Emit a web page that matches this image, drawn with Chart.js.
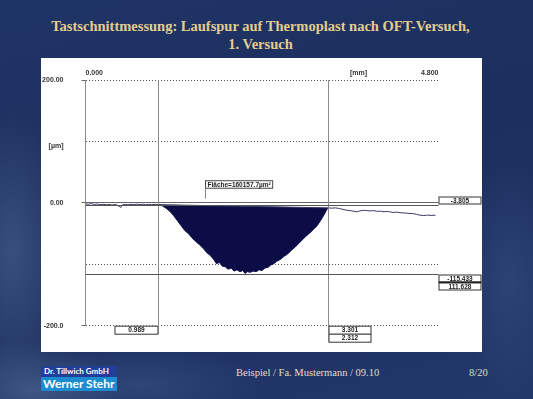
<!DOCTYPE html>
<html>
<head>
<meta charset="utf-8">
<script src="https://cdn.jsdelivr.net/npm/chart.js@4"></script>
<style>
  html, body { margin: 0; padding: 0; }
  body {
    width: 533px; height: 399px; overflow: hidden; position: relative;
    background:
      radial-gradient(ellipse 60px 140px at 12px 250px, rgba(110,140,185,0.35), transparent),
      radial-gradient(ellipse 90px 50px at 30px 390px, rgba(120,150,190,0.35), transparent),
      radial-gradient(ellipse 120px 40px at 140px 385px, rgba(90,120,170,0.25), transparent),
      radial-gradient(ellipse 50px 120px at 510px 280px, rgba(80,110,160,0.25), transparent),
      linear-gradient(165deg, #1f3466 0%, #1c2f5e 45%, #22386a 100%);
  }
  #title {
    position: absolute; left: 0; top: 17px; width: 521px; text-align: center;
    font: bold 14.5px "Liberation Serif", "DejaVu Serif", serif; line-height: 18px;
    color: #e3cd8c;
  }
  #panel { position: absolute; left: 41px; top: 58px; width: 441px; height: 294px; background: #fff; }
  #footer {
    position: absolute; left: 236px; top: 367px; white-space: nowrap;
    font: 10.5px "Liberation Serif", serif; color: #e4dcc4;
  }
  #page { position: absolute; left: 469px; top: 367px; font: 10.5px "Liberation Serif", serif; color: #e4dcc4; }
  #logo1 {
    position: absolute; left: 41px; top: 366px; width: 76px; height: 11px; white-space: nowrap;
    background: #213f98; color: #fff; font: bold 8px "Lato", sans-serif; line-height: 11px;
    padding-left: 3px; box-sizing: border-box; overflow: hidden;
  }
  #logo2 {
    position: absolute; left: 41px; top: 377px; width: 76px; height: 14px; white-space: nowrap;
    background: #1c8bd0; color: #fff; font: bold 12px "Lato", sans-serif; line-height: 14px;
    padding-left: 2px; box-sizing: border-box; overflow: hidden;
  }
</style>
</head>
<body>
<div id="title">Tastschnittmessung: Laufspur auf Thermoplast nach OFT-Versuch,<br>1. Versuch</div>
<div id="panel"><canvas id="profil" width="441" height="294"></canvas></div>
<div id="logo1">Dr. Tillwich GmbH</div>
<div id="logo2">Werner Stehr</div>
<div id="footer">Beispiel / Fa. Mustermann / 09.10</div>
<div id="page">8/20</div>
<script>
// profile measured along the track (x in mm, y in µm)
var profileX = [0.00, 0.04, 0.08, 0.12, 0.16, 0.20, 0.24, 0.28, 0.32, 0.36, 0.40, 0.44, 0.48, 0.50, 0.54, 0.58, 0.62, 0.66, 0.70, 0.74, 0.78, 0.82, 0.86, 0.90, 0.95, 0.99,
    3.30, 3.35, 3.40, 3.45, 3.50, 3.55, 3.60, 3.65, 3.69, 3.73, 3.78, 3.82, 3.87, 3.92, 3.97, 4.01, 4.06, 4.12, 4.18, 4.23, 4.29, 4.35, 4.40, 4.45, 4.50, 4.55, 4.60, 4.65, 4.70, 4.76];
var profileY = [-1.5, -2.0, -1.2, -2.4, -1.8, -2.9, -2.2, -3.0, -2.5, -3.4, -2.6, -3.8, -7.5, -3.2, -2.4, -3.0, -2.2, -2.8, -2.0, -2.6, -2.1, -2.9, -2.3, -2.7, -2.4, -2.8,
    -8.0, -8.5, -8.0, -9.0, -10.5, -11.8, -12.5, -13.5, -14.5, -13.0, -12.0, -12.4, -13.0, -12.5, -13.8, -13.4, -14.2, -14.0, -15.5, -15.0, -16.0, -16.5, -17.0, -17.3, -18.5, -20.0, -20.5, -19.8, -20.3, -20.0];

// worn groove between the two x cursors
var grooveX = [0.99, 1.013, 1.05, 1.10, 1.15, 1.20, 1.25, 1.30, 1.35, 1.40, 1.45, 1.50, 1.55, 1.60, 1.65, 1.70, 1.75, 1.78, 1.82, 1.86, 1.90, 1.94, 1.98,
    2.02, 2.06, 2.10, 2.14, 2.17, 2.20, 2.24, 2.28, 2.32, 2.36, 2.40, 2.44, 2.48, 2.52, 2.56, 2.60, 2.65, 2.70, 2.75, 2.80, 2.85, 2.90, 2.95,
    3.00, 3.05, 3.10, 3.15, 3.20, 3.25, 3.28, 3.30];
var grooveY = [-2.8, -2.6, -5, -9, -14, -21, -29, -37, -45, -50, -57, -63, -68, -74, -81, -86, -93, -99, -97, -103, -104, -108, -106,
    -111, -109, -112, -110, -115, -112, -113, -111, -112, -109, -110, -106, -105, -101, -99, -95, -92, -87, -83, -77, -72, -66, -60,
    -54, -49, -43, -37, -28, -18, -11, -8];

// straight chord closing the groove area
var chordX = [0.99, 3.30];
var chordY = [-2.6, -7.8];

// cursors
var cursorX = [0.989, 3.301];
var cursorY = [-3.805, -115.433];
var areaText = "Fläche=160157.7µm²";

// axes
var xTickVals = [0, 3.712, 4.8];
var xTickText = ["0.000", "[mm]", "4.800"];
var yTickVals = [-200, -100, 0, 93, 100, 200];
var yTickText = { "200": "200.00", "93": "[µm]", "0": "0.00", "-200": "-200.0" };

function pts(xs, ys) {
    return xs.map(function (x, i) { return { x: x, y: ys[i] }; });
}

var boxFont = "bold 6.5px 'Liberation Sans', Arial, sans-serif";

function valueBox(ctx, x, y, w, h, text) {
    ctx.fillStyle = "#fff";
    ctx.fillRect(x, y, w, h);
    ctx.strokeStyle = "#333";
    ctx.lineWidth = 1;
    ctx.strokeRect(x + 0.5, y + 0.5, w - 1, h - 1);
    ctx.fillStyle = "#222";
    ctx.font = boxFont;
    ctx.textAlign = "center";
    ctx.textBaseline = "middle";
    ctx.fillText(text, x + w / 2, y + h / 2 + 0.5);
}

// cursor lines, value boxes and area label
var cursorPlugin = {
    id: "cursors",
    afterDatasetsDraw: function (chart) {
        var ctx = chart.ctx, a = chart.chartArea;
        var xs = chart.scales.x, ys = chart.scales.y;
        var cx1 = Math.round(xs.getPixelForValue(cursorX[0])) + 0.5;
        var cx2 = Math.round(xs.getPixelForValue(cursorX[1])) + 0.5;
        var cy1 = Math.round(ys.getPixelForValue(cursorY[0])) + 0.5;
        var cy2 = Math.round(ys.getPixelForValue(cursorY[1])) + 0.5;
        ctx.save();
        ctx.strokeStyle = "#8a8a8a";
        ctx.lineWidth = 1;
        ctx.beginPath();
        ctx.moveTo(cx1, a.top); ctx.lineTo(cx1, a.bottom + 8);
        ctx.moveTo(cx2, a.top); ctx.lineTo(cx2, a.bottom + 16);
        ctx.stroke();
        ctx.strokeStyle = "#555";
        ctx.beginPath();
        ctx.moveTo(a.left, cy1); ctx.lineTo(a.right, cy1);
        ctx.moveTo(a.left, cy2); ctx.lineTo(a.right, cy2);
        ctx.stroke();

        var dx = (cursorX[1] - cursorX[0]).toFixed(3);
        var dy = (cursorY[0] - cursorY[1]).toFixed(3);
        valueBox(ctx, cx1 - 44, a.bottom, 44, 9, cursorX[0].toFixed(3));
        valueBox(ctx, cx2, a.bottom, 43, 9, cursorX[1].toFixed(3));
        valueBox(ctx, cx2, a.bottom + 8, 43, 9, dx);
        valueBox(ctx, a.right, cy1 - 9, 43, 8, cursorY[0].toFixed(3));
        valueBox(ctx, a.right, cy2, 43, 8, cursorY[1].toFixed(3));
        valueBox(ctx, a.right, cy2 + 8, 43, 8, dy);
        ctx.fillStyle = "#222";
        ctx.fillRect(a.right, cy2 + 7, 43, 1.5);

        // area label
        var lx = Math.round(xs.getPixelForValue(1.628)) + 0.5;
        var ly = ys.getPixelForValue(37);
        ctx.font = boxFont;
        var tw = ctx.measureText(areaText).width + 4;
        ctx.fillStyle = "#fff";
        ctx.fillRect(lx, ly, tw, 8);
        ctx.strokeStyle = "#444";
        ctx.strokeRect(lx, ly + 0.5, tw, 7.5);
        ctx.fillStyle = "#222";
        ctx.textAlign = "left";
        ctx.textBaseline = "middle";
        ctx.fillText(areaText, lx + 2, ly + 4.5);
        ctx.strokeStyle = "#888";
        ctx.beginPath();
        ctx.moveTo(lx, ly + 8); ctx.lineTo(lx, ys.getPixelForValue(7));
        ctx.stroke();
        ctx.restore();
    }
};

var axisFont = { family: "'Liberation Sans', Arial, sans-serif", size: 7, weight: "bold" };

new Chart(document.getElementById("profil").getContext("2d"), {
    type: "line",
    data: {
        datasets: [
            {
                label: "Profil",
                data: pts(profileX, profileY),
                borderColor: "#3b3b66",
                borderWidth: 1,
                pointRadius: 0,
                fill: false,
            },
            {
                label: "Laufspur",
                data: pts(grooveX, grooveY),
                borderColor: "#0d0d48",
                borderWidth: 1,
                backgroundColor: "#0c0c46",
                pointRadius: 0,
                fill: 2,
            },
            {
                label: "Sehne",
                data: pts(chordX, chordY),
                borderWidth: 0,
                borderColor: "rgba(0,0,0,0)",
                pointRadius: 0,
                fill: false,
            },
        ],
    },
    options: {
        responsive: false,
        devicePixelRatio: 1,
        animation: false,
        layout: { padding: { left: 0, top: 0, right: 43.5, bottom: 26.3 } },
        plugins: { legend: { display: false }, tooltip: { enabled: false } },
        scales: {
            x: {
                type: "linear",
                position: "top",
                min: 0,
                max: 4.8,
                afterBuildTicks: function (scale) {
                    scale.ticks = xTickVals.map(function (v) { return { value: v }; });
                },
                afterFit: function (scale) { scale.height = 20; },
                ticks: {
                    autoSkip: false,
                    maxRotation: 0,
                    align: "inner",
                    padding: -5,
                    color: "#333",
                    font: axisFont,
                    callback: function (v, i) { return xTickText[i]; },
                },
                grid: { display: false },
                border: { display: false },
            },
            y: {
                type: "linear",
                min: -200,
                max: 200,
                afterBuildTicks: function (scale) {
                    scale.ticks = yTickVals.map(function (v) { return { value: v }; });
                },
                afterFit: function (scale) { scale.width = 44.5; },
                ticks: {
                    autoSkip: false,
                    padding: 18,
                    color: "#333",
                    font: axisFont,
                    callback: function (v) { return yTickText[String(v)] || ""; },
                },
                grid: {
                    tickLength: 4,
                    lineWidth: 1,
                    color: function (c) {
                        if (!c.tick) return "#777";
                        if (c.tick.value === 93) return "rgba(0,0,0,0)";
                        return c.tick.value === 0 ? "#666" : "#555";
                    },
                    tickColor: function (c) {
                        if (!c.tick) return "#777";
                        var v = c.tick.value;
                        return (v === 0 || v === 200 || v === -200) ? "#666" : "rgba(0,0,0,0)";
                    },
                },
                border: {
                    display: true,
                    color: "#8a8a8a",
                    width: 1,
                    dash: function (c) {
                        if (c.tick && c.tick.value !== 0) return [1, 2];
                        return [];
                    },
                },
            },
        },
    },
    plugins: [cursorPlugin],
});
</script>
</body>
</html>
